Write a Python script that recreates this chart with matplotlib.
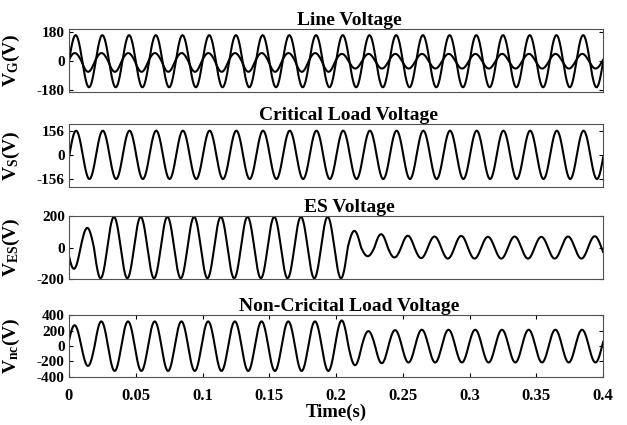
import numpy as np
import matplotlib
matplotlib.use("Agg")
import matplotlib.pyplot as plt

plt.rcParams['font.family'] = ['Liberation Serif', 'DejaVu Serif']
plt.rcParams['font.weight'] = 'bold'
plt.rcParams['mathtext.fontset'] = 'custom'
plt.rcParams['mathtext.rm'] = 'Liberation Serif'
plt.rcParams['mathtext.bf'] = 'Liberation Serif:bold'

# grid frequency and time span
f_grid = 50
t_end = 0.4

# phase (rad) of each waveform at t = 0
phase_vg1 = 0.0
phase_vg2 = 0.2
phase_vs = -0.1
phase_ves = -2.733
phase_vnc = 0.25

# peak values per cycle (positive / negative half-wave)
vg1_pos = [160] * 21
vg1_neg = [-160] * 21
vg2_pos = [50] * 10 + [45] * 11
vg2_neg = [-65] * 10 + [-45] * 11
vs_pos = [156] * 21
vs_neg = [-156] * 21
ves_pos = [0, 125] + [195] * 9 + [106, 85, 75, 70, 74, 68, 70, 68, 70, 72]
ves_neg = [-135, -195] + [-195] * 9 + [-55, -63, -67, -70, -70, -70, -70, -70, -70, -70]
vnc_pos = [268] + [318] * 9 + [330, 192, 205, 210, 210, 210, 210, 210, 210, 210, 210]
vnc_neg = [-260] + [-325] * 9 + [-250, -225, -215, -215, -215, -215, -215, -215, -215, -215, -215]

titles = ['Line Voltage', 'Critical Load Voltage', 'ES Voltage',
          'Non-Cricital Load Voltage']
ylabels = [r'$\mathbf{V_{G}(V)}$', r'$\mathbf{V_{S}(V)}$',
           r'$\mathbf{V_{ES}(V)}$', r'$\mathbf{V_{nc}(V)}$']
yticks = [[-180, 0, 180], [-156, 0, 156], [-200, 0, 200],
          [-400, -200, 0, 200, 400]]
ylims = [(-188, 196), (-205, 200), (-200, 200), (-400, 400)]
xticks = [0, 0.05, 0.1, 0.15, 0.2, 0.25, 0.3, 0.35, 0.4]
xticklabels = ['0', '0.05', '0.1', '0.15', '0.2', '0.25', '0.3', '0.35', '0.4']

t = np.linspace(0, t_end, 8001)


def wave(phase, pos, neg):
    # sine built half-wave by half-wave from the read peak values
    theta = 2 * np.pi * f_grid * t + phase
    k = np.floor(theta / (2 * np.pi)).astype(int)
    k -= k.min()
    s = np.sin(theta)
    amp = np.where(s >= 0, np.array(pos)[k], -np.array(neg)[k])
    return amp * s


series = [
    [wave(phase_vg1, vg1_pos, vg1_neg), wave(phase_vg2, vg2_pos, vg2_neg)],
    [wave(phase_vs, vs_pos, vs_neg)],
    [wave(phase_ves, ves_pos, ves_neg)],
    [wave(phase_vnc, vnc_pos, vnc_neg)],
]

fig = plt.figure(figsize=(6.27, 4.25), dpi=100)
bottoms = [0.784, 0.561, 0.3435, 0.1136]
heights = [0.147, 0.1475, 0.148, 0.145]

for i in range(4):
    ax = fig.add_axes([0.110, bottoms[i], 0.852, heights[i]])
    for y in series[i]:
        ax.plot(t, y, color='black', lw=1.5)
    ax.set_xlim(0, t_end)
    ax.set_ylim(*ylims[i])
    ax.set_yticks(yticks[i])
    ax.set_yticklabels([str(v) for v in yticks[i]], fontsize=11,
                       fontweight='bold')
    ax.tick_params(axis='y', direction='in', right=True, length=3, pad=3)
    if i < 3:
        ax.set_xticks([])
    else:
        ax.set_xticks(xticks)
        ax.set_xticklabels(xticklabels, fontsize=12, fontweight='bold')
        ax.tick_params(axis='x', direction='in', top=True, length=3, pad=8)
        ax.set_xlabel('Time(s)', fontsize=13.5, fontweight='bold', labelpad=0)
    for sp in ax.spines.values():
        sp.set_color('#505050')
        sp.set_linewidth(0.8)
    ax.set_title(titles[i], fontsize=14, fontweight='bold', pad=3, x=0.524)
    ax.set_ylabel(ylabels[i], fontsize=14)
    ax.yaxis.set_label_coords(-0.087, 0.5)

fig.savefig('out.png', dpi=100)
